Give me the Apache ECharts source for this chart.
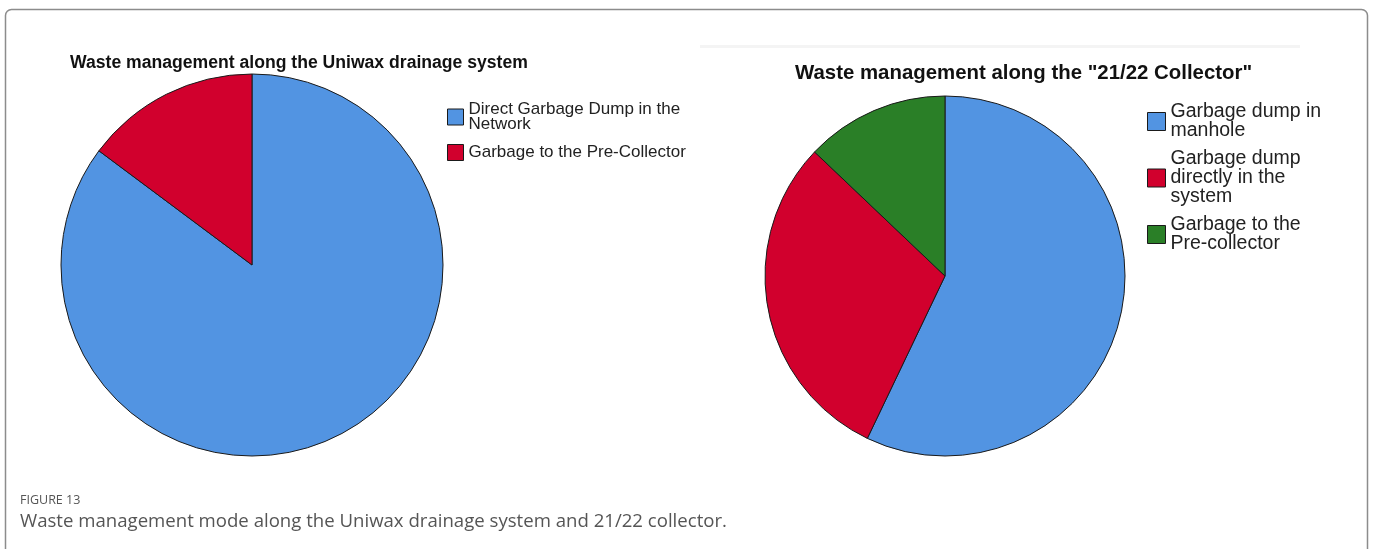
<!DOCTYPE html>
<html>
<head>
<meta charset="utf-8">
<script src="https://cdn.jsdelivr.net/npm/echarts@6/dist/echarts.min.js"></script>
<style>
  html, body { margin: 0; padding: 0; background: #fff; }
  #chart { width: 1373px; height: 549px; }
</style>
</head>
<body>
<div id="chart"></div>
<script>
// Uniwax drainage system: share of each waste management practice (%)
const uniwaxCategories = ['Direct Garbage Dump in the\nNetwork', 'Garbage to the Pre-Collector'];
const uniwaxValues = [85.2, 14.8];

// "21/22 Collector": share of each waste management practice (%)
const collectorCategories = ['Garbage dump in\nmanhole', 'Garbage dump\ndirectly in the\nsystem', 'Garbage to the\nPre-collector'];
const collectorValues = [57.1, 30.0, 12.9];

const uniwaxColors = ['#5294e2', '#d1002d'];
const collectorColors = ['#5294e2', '#d1002d', '#2a7f27'];

const titleLeft = 'Waste management along the Uniwax drainage system';
const titleRight = 'Waste management along the "21/22 Collector"';
const figureLabel = 'FIGURE 13';
const figureCaption = 'Waste management mode along the Uniwax drainage system and 21/22 collector.';

const titleFont = '"Liberation Sans", Arial, sans-serif';
const legendFont = '"Liberation Sans", Arial, sans-serif';

function toData(names, values, colors) {
  return names.map((n, i) => ({ name: n, value: values[i], itemStyle: { color: colors[i] } }));
}

const chart = echarts.init(document.getElementById('chart'), null, { renderer: 'canvas' });

chart.setOption({
  animation: false,
  backgroundColor: '#ffffff',
  title: [
    { text: titleLeft, left: 70, top: 54, padding: 0,
      textStyle: { fontFamily: titleFont, fontWeight: 'bold', fontSize: 17.6, color: '#111' } },
    { text: titleRight, left: 795, top: 63, padding: 0,
      textStyle: { fontFamily: titleFont, fontWeight: 'bold', fontSize: 20.4, color: '#111' } }
  ],
  legend: [
    {
      data: uniwaxCategories, orient: 'vertical', left: 447, top: 101, padding: 0,
      itemWidth: 16, itemHeight: 16, itemGap: 11, icon: 'rect', selectedMode: false,
      itemStyle: { borderColor: '#1a1a1a', borderWidth: 1 },
      textStyle: { fontFamily: legendFont, fontSize: 17, color: '#222', lineHeight: 15 }
    },
    {
      data: collectorCategories, orient: 'vertical', left: 1147, top: 102, padding: 0,
      itemWidth: 18, itemHeight: 18, itemGap: 8, icon: 'rect', selectedMode: false,
      itemStyle: { borderColor: '#1a1a1a', borderWidth: 1 },
      textStyle: { fontFamily: legendFont, fontSize: 19.5, color: '#222', lineHeight: 19 }
    }
  ],
  series: [
    {
      type: 'pie', center: [252, 265], radius: 191, startAngle: 90, clockwise: true,
      label: { show: false }, labelLine: { show: false }, silent: true,
      itemStyle: { borderColor: '#1a1a1a', borderWidth: 1 },
      data: toData(uniwaxCategories, uniwaxValues, uniwaxColors)
    },
    {
      type: 'pie', center: [945, 276], radius: 180, startAngle: 90, clockwise: true,
      label: { show: false }, labelLine: { show: false }, silent: true,
      itemStyle: { borderColor: '#1a1a1a', borderWidth: 1 },
      data: toData(collectorCategories, collectorValues, collectorColors)
    }
  ],
  graphic: [
    { type: 'rect', z: -1, shape: { x: 5.5, y: 9.5, width: 1362, height: 560, r: 6 },
      style: { fill: 'none', stroke: '#8c8c8c', lineWidth: 1.5 } },
    { type: 'rect', z: -1, shape: { x: 700, y: 45, width: 600, height: 3 },
      style: { fill: '#f4f4f4' } },
    { type: 'text', left: 20, top: 494,
      style: { text: figureLabel, fontFamily: '"Open Sans", sans-serif', fontSize: 12.5, fill: '#555' } },
    { type: 'text', left: 20, top: 512,
      style: { text: figureCaption, fontFamily: '"Open Sans", sans-serif', fontSize: 18.6, fill: '#555' } }
  ]
});
</script>
</body>
</html>
